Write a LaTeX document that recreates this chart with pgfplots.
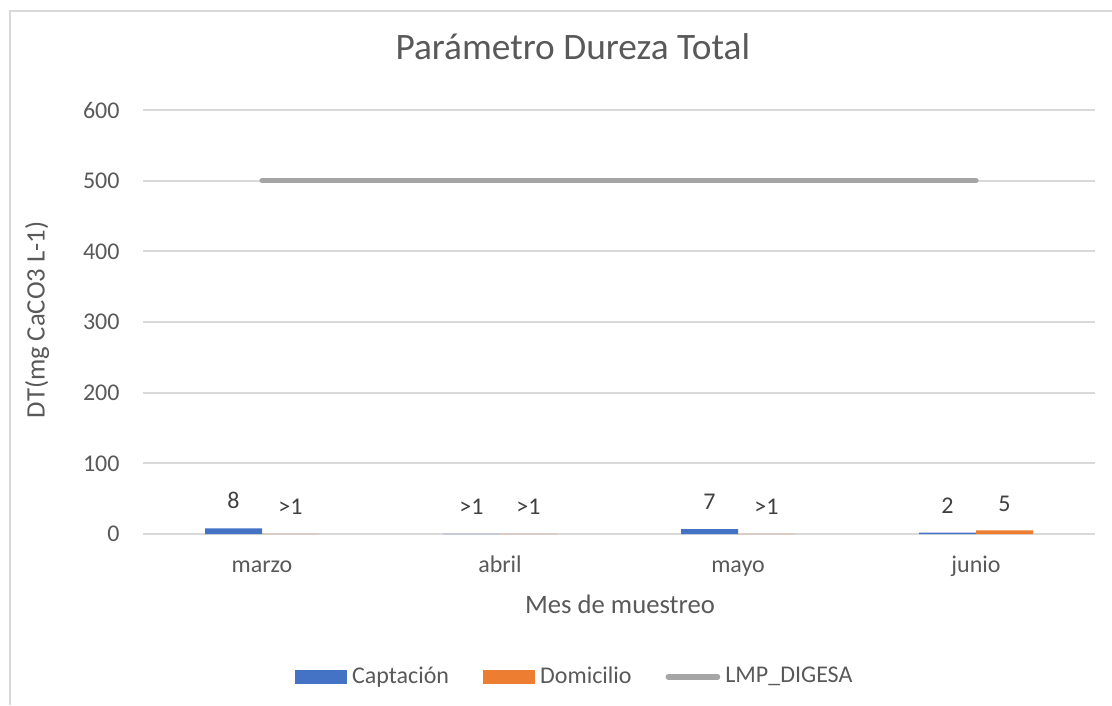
\documentclass[border=0pt]{standalone}
\usepackage{pgfplots}
\pgfplotsset{compat=1.18}
\usepackage{fontspec}
\setmainfont{Carlito}
\definecolor{capt}{HTML}{4472C4}
\definecolor{domi}{HTML}{ED7D31}
\definecolor{lmp}{HTML}{A5A5A5}
\definecolor{gridc}{HTML}{D9D9D9}
\definecolor{txt}{HTML}{595959}
\definecolor{lbl}{HTML}{404040}
\begin{document}
\begin{tikzpicture}[x=1pt,y=1pt]
\useasboundingbox (0,0) rectangle (417,264.375);
\draw[gridc, line width=0.75pt] (3.75,0) -- (3.75,260.25) -- (417,260.25);
\begin{axis}[
  at={(53.625pt,64.125pt)}, anchor=south west,
  scale only axis, width=357pt, height=159pt,
  xmin=-0.5, xmax=3.5, ymin=0, ymax=600,
  ytick={0,100,...,600},
  xtick={0,1,2,3}, xticklabels={marzo,abril,mayo,junio},
  axis lines*=left,
  y axis line style={draw=none},
  x axis line style={draw=gridc, line width=0.75pt},
  major tick length=0pt,
  ymajorgrids, grid style={gridc, line width=0.75pt},
  /pgf/number format/assume math mode=true,
  tick label style={font=\fontsize{9}{10}\selectfont, text=txt},
  yticklabel style={anchor=east, inner sep=0pt, xshift=-8.6pt},
  xticklabel style={anchor=base, inner sep=0pt, yshift=-14.25pt},
  legend columns=3,
  legend style={at={(0.4525,-0.337)}, anchor=center, draw=none, fill=none,
    font=\fontsize{9}{10}\selectfont, text=txt, inner sep=0pt,
    nodes={inner sep=0pt},
    /tikz/every odd column/.append style={column sep=1.9pt},
    /tikz/every even column/.append style={column sep=12.75pt}},
]
\addplot[ybar, bar width=21.375pt, bar shift=-10.6875pt, fill=capt, draw=none,
  nodes near coords, point meta=explicit symbolic,
  every node near coord/.append style={font=\fontsize{9}{10}\selectfont, text=lbl, anchor=base, inner sep=0pt, yshift=7.3pt, xshift=-10.6875pt},
  area legend, legend image code/.code={\fill[capt] (0pt,-2.6pt) rectangle (19.5pt,2.6pt);}]
  coordinates {(0,8) [8] (1,0.3) [>1] (2,7) [7] (3,2) [2]};
\addlegendentry{Captación}
\addplot[ybar, bar width=21.375pt, bar shift=10.6875pt, fill=domi, draw=none,
  nodes near coords, point meta=explicit symbolic,
  every node near coord/.append style={font=\fontsize{9}{10}\selectfont, text=lbl, anchor=base, inner sep=0pt, yshift=7.3pt, xshift=10.6875pt},
  area legend, legend image code/.code={\fill[domi] (0pt,-2.6pt) rectangle (19.5pt,2.6pt);}]
  coordinates {(0,0.3) [>1] (1,0.3) [>1] (2,0.3) [>1] (3,5) [5]};
\addlegendentry{Domicilio}
\addplot[lmp, line width=2pt, line cap=round, mark=none,
  legend image code/.code={\draw[lmp, line width=2pt, line cap=round] (1pt,0pt) -- (19.5pt,0pt);}]
  coordinates {(0,500) (1,500) (2,500) (3,500)};
\addlegendentry{LMP\_DIGESA}
\end{axis}
\node[text=txt, font=\fontsize{14}{16}\selectfont] at (214.8,246.75) {Parámetro Dureza Total};
\node[text=txt, font=\fontsize{10}{12}\selectfont] at (232.5,37.9) {Mes de muestreo};
\node[text=txt, font=\fontsize{10}{12}\selectfont, rotate=90] at (13.9,144.4) {DT(mg CaCO3 L-1)};
\end{tikzpicture}
\end{document}
